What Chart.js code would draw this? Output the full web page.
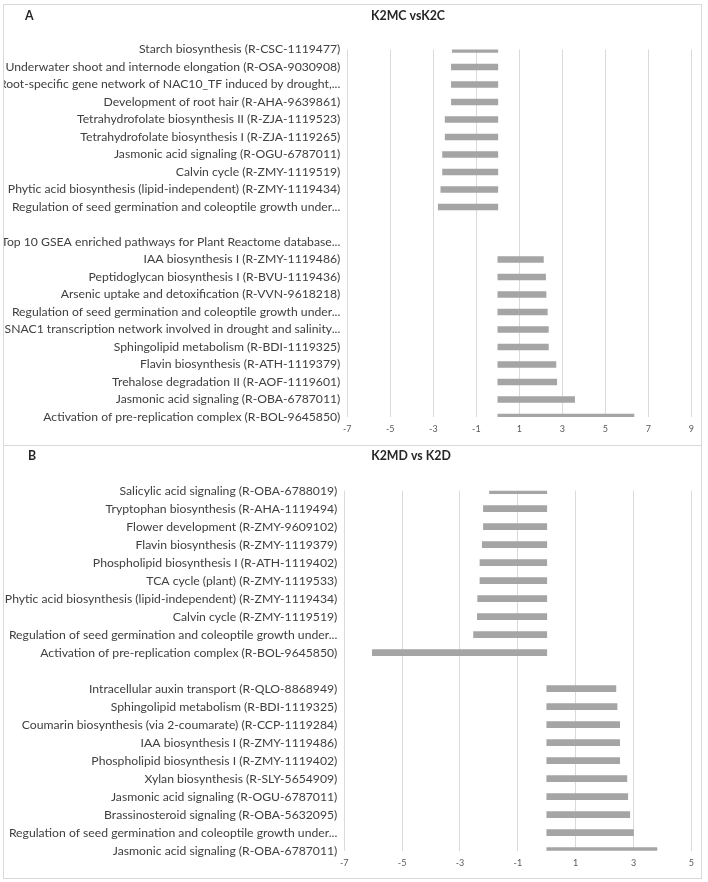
<!DOCTYPE html>
<html><head><meta charset="utf-8">
<script src="https://cdn.jsdelivr.net/npm/chart.js@4/dist/chart.umd.min.js"></script>
<style>
html,body{margin:0;padding:0;background:#fff;}
body{width:708px;height:882px;position:relative;overflow:hidden;}
.panel{position:absolute;left:3px;width:699px;border:1px solid #d9d9d9;box-sizing:border-box;background:#fff;}
#pa{top:4px;height:442px;}
#pb{top:445px;height:434px;}
canvas{display:block;}
</style></head><body>
<div class="panel" id="pa"><canvas id="ca" width="697" height="440"></canvas></div>
<div class="panel" id="pb"><canvas id="cb" width="697" height="432"></canvas></div>
<script>
// ---------- Panel A data (top to bottom) ----------
const categoriesA = [
  "Starch biosynthesis (R-CSC-1119477)",
  "Underwater shoot and internode elongation (R-OSA-9030908)",
  "Root-specific gene network of NAC10_TF induced by drought,...",
  "Development of root hair (R-AHA-9639861)",
  "Tetrahydrofolate biosynthesis II (R-ZJA-1119523)",
  "Tetrahydrofolate biosynthesis I (R-ZJA-1119265)",
  "Jasmonic acid signaling (R-OGU-6787011)",
  "Calvin cycle (R-ZMY-1119519)",
  "Phytic acid biosynthesis (lipid-independent) (R-ZMY-1119434)",
  "Regulation of seed germination and coleoptile growth under...",
  "",
  "Top 10 GSEA enriched pathways for Plant Reactome database...",
  "IAA biosynthesis I (R-ZMY-1119486)",
  "Peptidoglycan biosynthesis I (R-BVU-1119436)",
  "Arsenic uptake and detoxification (R-VVN-9618218)",
  "Regulation of seed germination and coleoptile growth under...",
  "SNAC1 transcription network involved in drought and salinity...",
  "Sphingolipid metabolism (R-BDI-1119325)",
  "Flavin biosynthesis (R-ATH-1119379)",
  "Trehalose degradation II (R-AOF-1119601)",
  "Jasmonic acid signaling (R-OBA-6787011)",
  "Activation of pre-replication complex (R-BOL-9645850)"
];
const valuesA = [-2.12, -2.16, -2.16, -2.16, -2.45, -2.45, -2.57, -2.57, -2.65, -2.77,
  null, null,
  2.12, 2.22, 2.24, 2.30, 2.35, 2.35, 2.70, 2.74, 3.57, 6.33];
const ticksA = [-7, -5, -3, -1, 1, 3, 5, 7, 9];
const titleA = "K2MC vsK2C";

// ---------- Panel B data (top to bottom) ----------
const categoriesB = [
  "Salicylic acid signaling (R-OBA-6788019)",
  "Tryptophan biosynthesis (R-AHA-1119494)",
  "Flower development (R-ZMY-9609102)",
  "Flavin biosynthesis (R-ZMY-1119379)",
  "Phospholipid biosynthesis I (R-ATH-1119402)",
  "TCA cycle (plant) (R-ZMY-1119533)",
  "Phytic acid biosynthesis (lipid-independent) (R-ZMY-1119434)",
  "Calvin cycle (R-ZMY-1119519)",
  "Regulation of seed germination and coleoptile growth under...",
  "Activation of pre-replication complex (R-BOL-9645850)",
  "",
  "Intracellular auxin transport (R-QLO-8868949)",
  "Sphingolipid metabolism (R-BDI-1119325)",
  "Coumarin biosynthesis (via 2-coumarate) (R-CCP-1119284)",
  "IAA biosynthesis I (R-ZMY-1119486)",
  "Phospholipid biosynthesis I (R-ZMY-1119402)",
  "Xylan biosynthesis (R-SLY-5654909)",
  "Jasmonic acid signaling (R-OGU-6787011)",
  "Brassinosteroid signaling (R-OBA-5632095)",
  "Regulation of seed germination and coleoptile growth under...",
  "Jasmonic acid signaling (R-OBA-6787011)"
];
const valuesB = [-1.98, -2.19, -2.19, -2.23, -2.31, -2.31, -2.39, -2.40, -2.53, -6.03,
  null,
  2.39, 2.43, 2.52, 2.52, 2.52, 2.77, 2.80, 2.87, 3.00, 3.81];
const ticksB = [-7, -5, -3, -1, 1, 3, 5];
const titleB = "K2MD vs K2D";

// ---------- styling ----------
const FAMILY = "Lato, 'Liberation Sans', sans-serif";
function fitSize(weight, text, target) {
  const c = document.createElement('canvas').getContext('2d');
  c.font = weight + ' 100px ' + FAMILY;
  return 100 * target / c.measureText(text).width;
}
const labelSize = fitSize('normal', "Underwater shoot and internode elongation (R-OSA-9030908)", 335);
const titleSize = fitSize('bold', "K2MC vsK2C", 74);

const panelText = {
  id: 'panelText',
  afterDraw(chart, args, o) {
    const ctx = chart.ctx;
    ctx.save();
    ctx.fillStyle = '#262626';
    ctx.font = 'bold ' + titleSize.toFixed(2) + 'px ' + FAMILY;
    ctx.textBaseline = 'middle';
    ctx.textAlign = 'center';
    ctx.fillText(o.title, o.titleX, o.titleY);
    ctx.textAlign = 'left';
    ctx.fillText(o.letter, o.letterX, o.letterY);
    ctx.restore();
  }
};

function makeChart(id, cats, vals, tickVals, title, L) {
  return new Chart(document.getElementById(id), {
    type: 'bar',
    data: {
      labels: cats,
      datasets: [{
        data: vals,
        backgroundColor: '#a5a5a5',
        borderWidth: 0,
        barThickness: 6,
        clip: 0
      }]
    },
    options: {
      indexAxis: 'y',
      responsive: false,
      animation: false,
      events: [],
      layout: { padding: { top: L.top, right: L.right, left: 0, bottom: 0 } },
      plugins: {
        legend: { display: false },
        tooltip: { enabled: false },
        title: { display: false },
        panelText: { title: title, titleX: L.titleX, titleY: L.titleY, letter: L.letter, letterX: L.letterX, letterY: L.letterY }
      },
      scales: {
        x: {
          type: 'linear',
          min: tickVals[0],
          max: tickVals[tickVals.length - 1],
          afterBuildTicks(scale) { scale.ticks = tickVals.map(v => ({ value: v })); },
          afterFit(scale) { scale.height = L.xh; },
          grid: { color: '#d9d9d9', lineWidth: 1, drawTicks: false },
          border: { display: false },
          ticks: { color: '#595959', font: { family: FAMILY, size: 9 }, padding: 7, maxRotation: 0, autoSkip: false }
        },
        y: {
          type: 'category',
          offset: false,
          afterFit(scale) { scale.width = L.yw; },
          grid: { display: false, drawTicks: false },
          border: { display: false },
          ticks: { color: '#404040', font: { family: FAMILY, size: labelSize }, padding: 7, autoSkip: false, crossAlign: 'near' }
        }
      }
    },
    plugins: [panelText]
  });
}

makeChart('ca', categoriesA, valuesA, ticksA, titleA,
  { top: 44.5, right: 4.3, xh: 28, yw: 343.3, titleX: 404, titleY: 11, letter: 'A', letterX: 21, letterY: 11 });
makeChart('cb', categoriesB, valuesB, ticksB, titleB,
  { top: 44.7, right: 5.7, xh: 27.3, yw: 340.3, titleX: 407, titleY: 10, letter: 'B', letterX: 24, letterY: 10.5 });
</script>
</body></html>
